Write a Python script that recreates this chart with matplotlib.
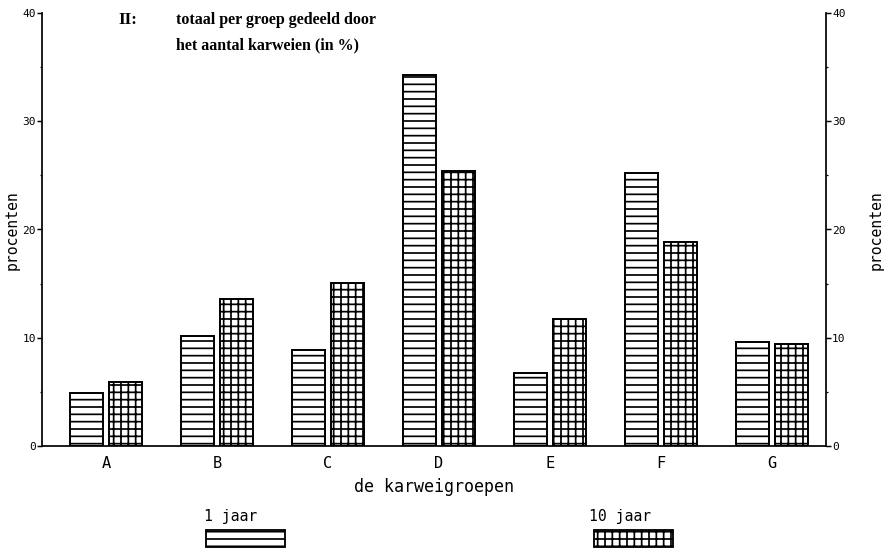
import matplotlib
matplotlib.use("Agg")
import matplotlib.pyplot as plt
import numpy as np
from matplotlib.patches import Rectangle
from matplotlib.ticker import MultipleLocator

# Data: share per job group (percent)
groups = ["A", "B", "C", "D", "E", "F", "G"]
jaar_1 = [4.9, 10.2, 8.9, 34.3, 6.7, 25.2, 9.6]
jaar_10 = [5.9, 13.6, 15.1, 25.4, 11.7, 18.8, 9.4]
series_labels = ["1 jaar", "10 jaar"]
yticks = [0, 10, 20, 30, 40]

DPI = 88.7
plt.rcParams["hatch.linewidth"] = 1.4
plt.rcParams["hatch.color"] = "black"
mono = "DejaVu Sans Mono"
serif = "Liberation Serif"

fig = plt.figure(figsize=(887 / DPI, 553 / DPI), dpi=DPI)
ax = fig.add_axes([42 / 887, 1 - 446 / 553, (826 - 42) / 887, (446 - 13) / 553])

x = np.arange(len(groups))
w = 0.30
off = 0.175
ax.bar(x - off, jaar_1, width=w, facecolor="white", edgecolor="black",
       linewidth=1.6, hatch="--")
ax.bar(x + off, jaar_10, width=w, facecolor="white", edgecolor="black",
       linewidth=1.6, hatch="++")

ax.set_xlim(-0.577, 6.486)
ax.set_ylim(0, 40)
ax.set_xticks(x)
ax.set_xticklabels(groups, family=mono, fontsize=12.5)
ax.tick_params(axis="x", length=0, pad=8)

ax.spines["top"].set_visible(False)
for s in ["left", "right", "bottom"]:
    ax.spines[s].set_linewidth(1.4)

ax.set_yticks(yticks)
ax.yaxis.set_minor_locator(MultipleLocator(5))
ax.tick_params(axis="y", which="major", direction="out", length=4, width=1.2,
               labelsize=9, pad=1, left=True, right=True,
               labelleft=True, labelright=True)
ax.tick_params(axis="y", which="minor", direction="out", length=2, width=1.0,
               left=True, right=True)
for lab in ax.get_yticklabels():
    lab.set_family(mono)

fig.text(434 / 887, 1 - 487 / 553, "de karweigroepen", family=mono,
         fontsize=13.5, ha="center", va="center")
fig.text(12 / 887, 1 - 230 / 553, "procenten", family=mono, fontsize=12,
         rotation=90, ha="center", va="center")
fig.text(876 / 887, 1 - 230 / 553, "procenten", family=mono, fontsize=12,
         rotation=90, ha="center", va="center")

# Title block
fig.text(118 / 887, 1 - 20 / 553, "II:", family=serif,
         fontweight="bold", fontsize=14, ha="left", va="center")
fig.text(176 / 887, 1 - 20 / 553, "totaal per groep gedeeld door",
         family=serif, fontweight="bold", fontsize=13, ha="left", va="center")
fig.text(176 / 887, 1 - 45 / 553, "het aantal karweien (in %)",
         family=serif, fontweight="bold", fontsize=13, ha="left", va="center")

# Legend keys below the axis
legend_boxes = [(206, 285), (594, 673)]
legend_text_x = [231, 620]
hatches = ["--", "++"]
for (x0, x1), tx, h, lab in zip(legend_boxes, legend_text_x, hatches,
                                series_labels):
    fig.patches.append(Rectangle((x0 / 887, 1 - 547 / 553), (x1 - x0) / 887,
                                 17 / 553, transform=fig.transFigure,
                                 facecolor="white", edgecolor="black",
                                 linewidth=1.5, hatch=h))
    fig.text(tx / 887, 1 - 517 / 553, lab, family=mono, fontsize=12,
             ha="center", va="center")

fig.savefig("out.png", dpi=DPI)
